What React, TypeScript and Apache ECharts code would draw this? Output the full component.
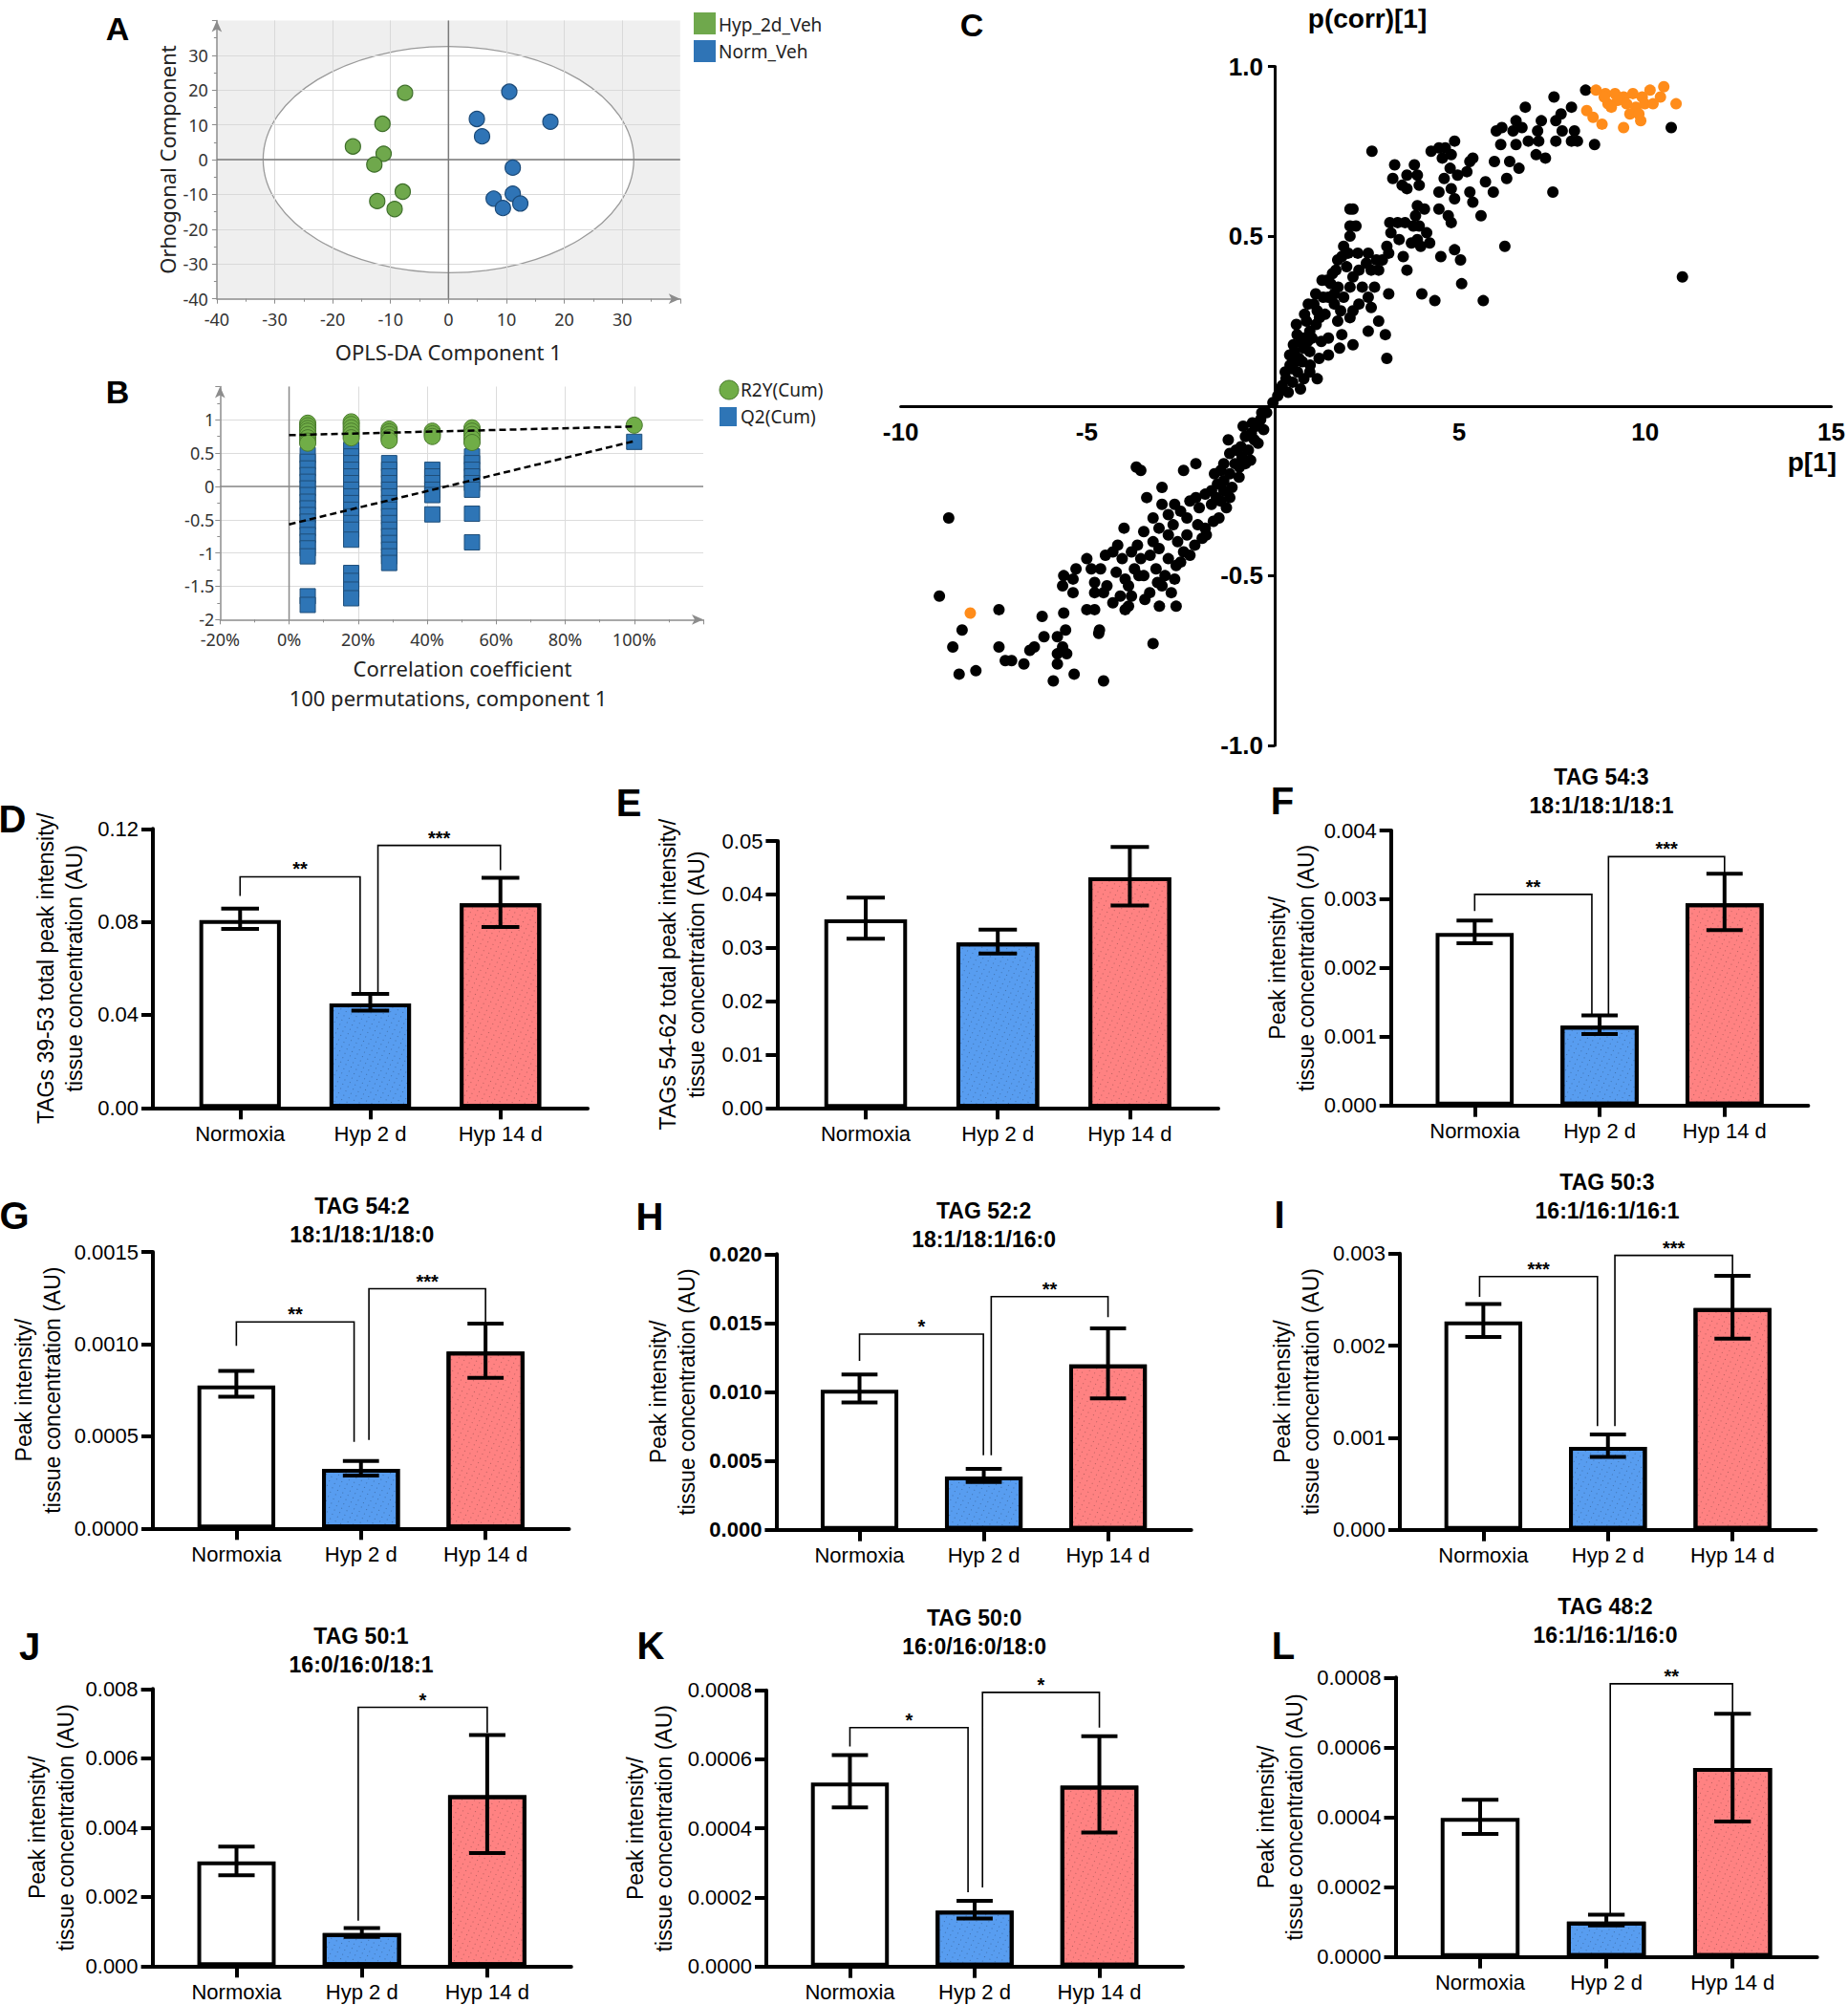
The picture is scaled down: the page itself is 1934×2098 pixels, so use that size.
import React, { useEffect, useRef } from 'react';
import * as echarts from 'echarts';

const PAGE_W = 1934;
const PAGE_H = 2098;
const ARIAL = '"Liberation Sans", Arial, Helvetica, sans-serif';
const UI = '"Noto Sans", "Open Sans", sans-serif';

/* ---------------- Panel A : OPLS-DA score plot ---------------- */
const aHypPoints = [[-7.5, 19.2], [-11.4, 10.3], [-16.5, 3.8], [-11.2, 1.7], [-12.8, -1.4], [-7.9, -9.2], [-12.3, -11.9], [-9.3, -14.2]];
const aNormPoints = [[10.5, 19.5], [4.9, 11.7], [17.6, 10.9], [5.8, 6.7], [11.1, -2.3], [11.1, -9.8], [7.8, -11.2], [12.4, -12.6], [9.4, -13.9]];
const aEllipse = [[0, 0, 32, 32.5]]; // centre x, centre y, radius x, radius y (Hotelling T2)
const aLegend = ['Hyp_2d_Veh', 'Norm_Veh'];

/* ---------------- Panel B : permutation test ---------------- */
const bPermX = [5.4, 18, 29, 41.5, 53, 100];
const bR2Y = [
  [0.95, 0.91, 0.87, 0.83, 0.78, 0.73, 0.68, 0.65],
  [0.97, 0.93, 0.88, 0.83, 0.78, 0.73],
  [0.86, 0.82, 0.78, 0.73, 0.69],
  [0.83, 0.79, 0.75],
  [0.88, 0.83, 0.78, 0.72, 0.66],
  [0.92],
];
const bQ2 = [
  [0.47, 0.37, 0.27, 0.17, 0.07, -0.03, -0.13, -0.23, -0.33, -0.43, -0.53, -0.63, -0.73, -0.83, -0.93, -1.05, -1.65, -1.78],
  [0.55, 0.45, 0.35, 0.25, 0.15, 0.05, -0.05, -0.15, -0.25, -0.35, -0.45, -0.55, -0.65, -0.8, -1.3, -1.42, -1.55, -1.68],
  [0.35, 0.25, 0.15, 0.05, -0.05, -0.15, -0.25, -0.35, -0.45, -0.55, -0.65, -0.75, -0.85, -0.95, -1.05, -1.15],
  [0.25, 0.15, 0.05, -0.05, -0.13, -0.42],
  [0.45, 0.35, 0.25, 0.15, 0.05, -0.05, -0.41, -0.84],
  [0.67],
];
const bR2YFit = [[0, 0.77], [100, 0.9]];
const bQ2Fit = [[0, -0.57], [100, 0.68]];
const bLegend = ['R2Y(Cum)', 'Q2(Cum)'];

/* ---------------- Panel C : S-plot ---------------- */
const cBlack = [
  [8.4, 0.93], [10.7, 0.82], [11.0, 0.38], [8.64, 0.77], [7.55, 0.91], [6.78, 0.88], [7.74, 0.86], [8.02, 0.88], [7.21, 0.84], [7.6, 0.84],
  [7.77, 0.81], [8.1, 0.81], [8.02, 0.78], [7.6, 0.78], [8.18, 0.78], [7.11, 0.81], [6.53, 0.84], [6.69, 0.82], [6.0, 0.81], [6.15, 0.82],
  [6.45, 0.81], [6.12, 0.77], [6.53, 0.77], [6.86, 0.78], [7.14, 0.78], [7.07, 0.74], [7.32, 0.73], [6.61, 0.7], [6.36, 0.72], [5.95, 0.72],
  [6.28, 0.67], [5.71, 0.66], [5.92, 0.63], [7.52, 0.63], [5.37, 0.73], [5.29, 0.72], [4.96, 0.68], [5.21, 0.69], [4.88, 0.78], [4.63, 0.76],
  [4.46, 0.76], [4.25, 0.75], [4.79, 0.74], [4.55, 0.73], [4.76, 0.7], [4.6, 0.67], [4.79, 0.64], [4.88, 0.61], [4.46, 0.63], [4.46, 0.58],
  [4.71, 0.56], [4.79, 0.54], [5.29, 0.63], [5.37, 0.6], [5.59, 0.56], [6.23, 0.47], [4.88, 0.46], [5.04, 0.43], [4.51, 0.44], [5.07, 0.36],
  [5.65, 0.31], [4.0, 0.33], [4.35, 0.31], [3.8, 0.71], [3.88, 0.68], [3.6, 0.68], [3.27, 0.71], [3.22, 0.67], [3.47, 0.65], [3.6, 0.64],
  [3.93, 0.65], [3.88, 0.59], [4.07, 0.58], [3.83, 0.56], [3.77, 0.53], [3.93, 0.53], [3.88, 0.49], [4.13, 0.51], [4.21, 0.48], [3.97, 0.47],
  [3.72, 0.48], [3.55, 0.54], [3.35, 0.54], [3.14, 0.54], [3.17, 0.51], [3.39, 0.49], [3.5, 0.44], [3.6, 0.4], [3.06, 0.47], [3.11, 0.45],
  [2.94, 0.43], [3.11, 0.33], [3.02, 0.21], [3.06, 0.14], [2.66, 0.75], [2.07, 0.58], [2.15, 0.58], [2.07, 0.53], [2.23, 0.53], [2.07, 0.5],
  [2.02, 0.45], [2.28, 0.45], [2.56, 0.45], [2.78, 0.43], [2.51, 0.42], [1.74, 0.43], [1.69, 0.4], [1.98, 0.41], [2.31, 0.4], [2.64, 0.4],
  [2.84, 0.4], [2.15, 0.38], [1.32, 0.37], [1.45, 0.37], [2.4, 0.35], [2.07, 0.35], [2.73, 0.35], [2.56, 0.32], [1.65, 0.33], [1.49, 0.32],
  [1.9, 0.32], [2.31, 0.3], [2.64, 0.29], [2.15, 0.28], [1.82, 0.28], [1.65, 0.3], [1.19, 0.28], [1.4, 0.27], [1.74, 0.25], [2.07, 0.26],
  [2.84, 0.25], [2.56, 0.22], [1.85, 0.21], [2.15, 0.18], [1.79, 0.17], [1.49, 0.2], [1.16, 0.24], [0.99, 0.22], [0.63, 0.24], [0.83, 0.2],
  [0.93, 0.19], [0.83, 0.17], [0.58, 0.16], [0.99, 0.16], [1.24, 0.14], [1.49, 0.15], [0.79, 0.13], [0.46, 0.12], [0.33, 0.1], [0.66, 0.1],
  [0.99, 0.1], [1.19, 0.08], [0.83, 0.08], [0.53, 0.07], [0.25, 0.06], [0.41, 0.04], [0.13, 0.03], [0.74, 0.05], [0, 0.01], [0.2, 0.05],
  [0.35, 0.08], [0.5, 0.11], [0.6, 0.13], [0.7, 0.14], [0.55, 0.18], [0.75, 0.19], [0.9, 0.25], [1.05, 0.2], [1.1, 0.3], [1.25, 0.26],
  [0.45, 0.15], [0.65, 0.21], [0.85, 0.27], [1.0, 0.12], [1.3, 0.19], [0.95, 0.3], [1.15, 0.33], [1.35, 0.32], [1.55, 0.36], [1.6, 0.39],
  [1.85, 0.44], [1.9, 0.47], [1.75, 0.35],
  [-0.17, -0.02], [-0.33, -0.04], [-0.46, -0.06], [-0.25, -0.07], [-0.58, -0.08], [-0.74, -0.09], [-0.5, -0.1], [-0.86, -0.12], [-0.66, -0.13], [-0.99, -0.13],
  [-1.16, -0.14], [-0.83, -0.15], [-1.32, -0.17], [-1.02, -0.17], [-0.74, -0.17], [-1.4, -0.19], [-1.16, -0.2], [-1.57, -0.2], [-1.32, -0.22], [-0.91, -0.21],
  [-1.49, -0.23], [-1.65, -0.25], [-1.32, -0.25], [-1.82, -0.26], [-2.07, -0.27], [-1.52, -0.27], [-1.16, -0.27], [-2.4, -0.19], [-2.07, -0.17], [-3.67, -0.18],
  [-3.55, -0.19], [-3.39, -0.27], [-2.98, -0.24], [-2.23, -0.28], [-2.64, -0.29], [-2.98, -0.29], [-1.65, -0.29], [-1.98, -0.3], [-2.48, -0.31], [-2.81, -0.32],
  [-3.22, -0.33], [-2.31, -0.33], [-2.02, -0.35], [-2.68, -0.35], [-3.06, -0.36], [-4.0, -0.36], [-3.47, -0.37], [-2.81, -0.38], [-2.31, -0.38], [-1.82, -0.36],
  [-1.79, -0.38], [-3.22, -0.4], [-2.56, -0.4], [-3.64, -0.41], [-4.17, -0.41], [-3.06, -0.42], [-3.8, -0.43], [-4.3, -0.43], [-3.3, -0.44], [-2.23, -0.44],
  [-4.5, -0.44], [-2.81, -0.45], [-4.05, -0.45], [-3.55, -0.45], [-5.0, -0.45], [-2.48, -0.46], [-3.72, -0.48], [-3.14, -0.48], [-4.63, -0.48], [-4.21, -0.49],
  [-4.88, -0.48], [-2.64, -0.51], [-3.47, -0.5], [-3.97, -0.51], [-5.62, -0.5], [-5.29, -0.48], [-5.37, -0.51], [-5.65, -0.53], [-4.79, -0.52], [-4.46, -0.53],
  [-3.88, -0.53], [-2.98, -0.53], [-2.73, -0.55], [-3.31, -0.55], [-4.55, -0.55], [-5.37, -0.55], [-4.79, -0.55], [-3.8, -0.56], [-3.44, -0.57], [-3.88, -0.59],
  [-3.97, -0.6], [-3.05, -0.59], [-2.6, -0.59], [-4.3, -0.58], [-5.0, -0.6], [-4.79, -0.6], [-5.62, -0.61], [-6.2, -0.62], [-7.36, -0.6], [-8.96, -0.56],
  [-8.71, -0.33], [-8.35, -0.66], [-8.6, -0.71], [-7.36, -0.71], [-7.19, -0.75], [-7.02, -0.75], [-6.69, -0.76], [-6.53, -0.72], [-6.41, -0.71], [-6.15, -0.68],
  [-5.79, -0.68], [-5.57, -0.66], [-5.65, -0.71], [-5.79, -0.73], [-5.54, -0.73], [-5.79, -0.76], [-4.66, -0.66], [-4.68, -0.67], [-3.22, -0.7], [-8.43, -0.79],
  [-7.98, -0.78], [-5.9, -0.81], [-5.34, -0.79], [-4.55, -0.81],
  [-0.4, -0.11], [-0.6, -0.16], [-0.9, -0.18], [-1.1, -0.24], [-1.25, -0.3], [-1.45, -0.33], [-1.6, -0.34], [-1.4, -0.28], [-1.9, -0.39], [-2.1, -0.41],
  [-2.4, -0.43], [-2.6, -0.47], [-2.9, -0.5], [-3.1, -0.52], [-3.6, -0.5], [-4.1, -0.56], [-0.3, -0.02], [-0.55, -0.05], [-0.8, -0.06], [-1.2, -0.1],
];
const cOrange = [
  [8.68, 0.93], [8.93, 0.92], [9.19, 0.92], [9.42, 0.91], [9.67, 0.92], [9.92, 0.91], [10.13, 0.93], [10.5, 0.94], [8.43, 0.87], [8.6, 0.85],
  [8.84, 0.83], [9.0, 0.89], [9.26, 0.9], [9.5, 0.89], [9.75, 0.88], [9.99, 0.89], [10.21, 0.89], [10.41, 0.91], [10.83, 0.89], [9.42, 0.82],
  [9.88, 0.84], [9.59, 0.86], [9.09, 0.88], [9.83, 0.86], [8.9, 0.91], [-8.13, -0.61],
];

/* ---------------- Panels D–L : bar charts ---------------- */
const groups = ['Normoxia', 'Hyp 2 d', 'Hyp 14 d'];
const groupFills = ['#ffffff', '#589df0', '#ff8282'];

const dMean = [0.0808, 0.0449, 0.088];
const dUpper = [0.0857, 0.049, 0.099];
const dLower = [0.077, 0.0418, 0.0778];
const dBrackets = [[0, 0.0912, 0.922, 0.049, 0.0994], [1.059, 0.049, 2, 0.1022, 0.1129]];
const dStars = ['**', '***'];

const eMean = [0.0353, 0.031, 0.0432];
const eUpper = [0.0394, 0.0334, 0.0489];
const eLower = [0.0317, 0.0289, 0.0379];
const eBrackets: number[][] = [];
const eStars: string[] = [];

const fMean = [0.00251, 0.00116, 0.00294];
const fUpper = [0.00269, 0.00131, 0.00337];
const fLower = [0.00236, 0.00104, 0.00255];
const fBrackets = [[0, 0.00283, 0.938, 0.00131, 0.00307], [1.071, 0.00131, 2, 0.00337, 0.00362]];
const fStars = ['**', '***'];

const gMean = [0.000776, 0.000323, 0.000959];
const gUpper = [0.000855, 0.000366, 0.001111];
const gLower = [0.000714, 0.000287, 0.000817];
const gBrackets = [[0, 0.00099, 0.945, 0.00047, 0.00112], [1.064, 0.00048, 2, 0.00111, 0.0013]];
const gStars = ['**', '***'];

const hMean = [0.01015, 0.00386, 0.012];
const hUpper = [0.01126, 0.00442, 0.01461];
const hLower = [0.00923, 0.00347, 0.00953];
const hBrackets = [[0, 0.01225, 0.997, 0.0054, 0.0142], [1.06, 0.0054, 2, 0.01542, 0.01692]];
const hStars = ['*', '**'];

const iMean = [0.002263, 0.0009, 0.002408];
const iUpper = [0.002453, 0.001035, 0.002758];
const iLower = [0.002093, 0.000792, 0.002076];
const iBrackets = [[-0.03, 0.00253, 0.916, 0.001125, 0.00275], [1.056, 0.001125, 2, 0.00276, 0.00298]];
const iStars = ['***', '***'];

const jMean = [0.003025, 0.000956, 0.004929];
const jUpper = [0.003448, 0.0011, 0.006667];
const jLower = [0.002621, 0.000846, 0.003264];
const jBrackets = [[0.971, 0.00131, 2, 0.00673, 0.00747]];
const jStars = ['*'];

const kMean = [0.000533, 0.000162, 0.000524];
const kUpper = [0.000612, 0.00019, 0.000667];
const kLower = [0.000461, 0.000139, 0.000388];
const kBrackets = [[0, 0.000637, 0.947, 0.000215, 0.000692], [1.063, 0.000229, 2, 0.000692, 0.000794]];
const kStars = ['*', '*'];

const lMean = [0.000398, 0.000101, 0.000541];
const lUpper = [0.00045, 0.000121, 0.000696];
const lLower = [0.000352, 0.00009, 0.000388];
const lBrackets = [[1.031, 0.00012, 2, 0.000696, 0.000782]];
const lStars = ['**'];

const Y_PEAK = 'Peak intensity/\ntissue concentration (AU)';

// layout of the bar panels (pixel boxes)
const barPanels = [
  { mean: dMean, upper: dUpper, lower: dLower, brackets: dBrackets, stars: dStars, max: 0.12, step: 0.04, dec: 2, yName: 'TAGs 39-53 total peak intensity/\ntissue concentration (AU)', title: '', box: { ax: 160, top: 867.3, zero: 1159.3, right: 615, gap: 67, tx: 0, ty: 0 } },
  { mean: eMean, upper: eUpper, lower: eLower, brackets: eBrackets, stars: eStars, max: 0.05, step: 0.01, dec: 2, yName: 'TAGs 54-62 total peak intensity/\ntissue concentration (AU)', title: '', box: { ax: 813.4, top: 880, zero: 1159.3, right: 1275, gap: 69, tx: 0, ty: 0 } },
  { mean: fMean, upper: fUpper, lower: fLower, brackets: fBrackets, stars: fStars, max: 0.004, step: 0.001, dec: 3, yName: Y_PEAK, title: 'TAG 54:3\n18:1/18:1/18:1', box: { ax: 1455.7, top: 869, zero: 1156.7, right: 1892.4, gap: 74, tx: 1676, ty: 828 } },
  { mean: gMean, upper: gUpper, lower: gLower, brackets: gBrackets, stars: gStars, max: 0.0015, step: 0.0005, dec: 4, yName: Y_PEAK, title: 'TAG 54:2\n18:1/18:1/18:0', box: { ax: 160, top: 1310, zero: 1599.3, right: 595.5, gap: 90, tx: 378.8, ty: 1276.7 } },
  { mean: hMean, upper: hUpper, lower: hLower, brackets: hBrackets, stars: hStars, max: 0.02, step: 0.005, dec: 3, yName: Y_PEAK, title: 'TAG 52:2\n18:1/18:1/16:0', bold: true, box: { ax: 812.4, top: 1312.3, zero: 1600.7, right: 1246.7, gap: 78, tx: 1029.6, ty: 1281.7 } },
  { mean: iMean, upper: iUpper, lower: iLower, brackets: iBrackets, stars: iStars, max: 0.003, step: 0.001, dec: 3, yName: Y_PEAK, title: 'TAG 50:3\n16:1/16:1/16:1', box: { ax: 1465, top: 1311.7, zero: 1600.7, right: 1900.5, gap: 78, tx: 1682, ty: 1252.2 } },
  { mean: jMean, upper: jUpper, lower: jLower, brackets: jBrackets, stars: jStars, max: 0.008, step: 0.002, dec: 3, yName: Y_PEAK, title: 'TAG 50:1\n16:0/16:0/18:1', box: { ax: 159.6, top: 1767.3, zero: 2057.3, right: 597.8, gap: 76, tx: 378, ty: 1727 } },
  { mean: kMean, upper: kUpper, lower: kLower, brackets: kBrackets, stars: kStars, max: 0.0008, step: 0.0002, dec: 4, yName: Y_PEAK, title: 'TAG 50:0\n16:0/16:0/18:0', box: { ax: 802, top: 1768.7, zero: 2057.7, right: 1238, gap: 92, tx: 1019.6, ty: 1707.5 } },
  { mean: lMean, upper: lUpper, lower: lLower, brackets: lBrackets, stars: lStars, max: 0.0008, step: 0.0002, dec: 4, yName: Y_PEAK, title: 'TAG 48:2\n16:1/16:1/16:0', box: { ax: 1460.5, top: 1755.3, zero: 2047.7, right: 1901.7, gap: 91, tx: 1680, ty: 1696 } },
];

const panelLetters: [string, number, number, number][] = [
  ['A', 123, 30, 34], ['B', 123, 410, 34], ['C', 1017, 26, 34],
  ['D', 13, 857, 40], ['E', 658, 840, 40], ['F', 1342, 838, 40],
  ['G', 15, 1272, 40], ['H', 680, 1273, 40], ['I', 1339, 1271, 40],
  ['J', 31, 1723, 40], ['K', 681, 1722, 40], ['L', 1343, 1722, 40],
];

function txt(text: string, x: number, y: number, font: string, align = 'center', vAlign = 'middle', extra: any = {}) {
  return {
    type: 'text', x, y, silent: true, z: 50,
    style: { text, font, fill: '#000', align, verticalAlign: vAlign, textAlign: align, textVerticalAlign: vAlign, ...extra },
  };
}

function buildOption() {
  const grid: any[] = [];
  const xAxis: any[] = [];
  const yAxis: any[] = [];
  const series: any[] = [];
  const graphic: any[] = [];

  const grayAxis = { color: '#8c8c8c', width: 1.5 };
  const uiLabel = { fontFamily: UI, fontSize: 18, color: '#333' };

  /* ---------- A ---------- */
  grid.push({ left: 226.9, top: 21.4, width: 484.9, height: 291.3, show: true, backgroundColor: '#efefef', borderWidth: 0 });
  xAxis.push({
    gridIndex: 0, type: 'value', min: -40, max: 40, interval: 10, z: 3,
    axisLine: { show: true, onZero: false, symbol: ['none', 'arrow'], symbolSize: [8, 12], lineStyle: grayAxis },
    axisTick: { show: true, length: 5, lineStyle: { color: '#8c8c8c' } },
    minorTick: { show: true, splitNumber: 2, length: 3, lineStyle: { color: '#8c8c8c' } },
    axisLabel: { ...uiLabel, margin: 12, formatter: (v: number) => (v >= 40 ? '' : String(v)) },
    splitLine: { show: true, showMinLine: false, showMaxLine: false, lineStyle: { color: '#d9d9d9', width: 1 } },
    name: 'OPLS-DA Component 1', nameLocation: 'middle', nameGap: 44,
    nameTextStyle: { fontFamily: UI, fontSize: 22, color: '#222' },
  });
  yAxis.push({
    gridIndex: 0, type: 'value', min: -40, max: 40, interval: 10, z: 3,
    axisLine: { show: true, onZero: false, symbol: ['none', 'arrow'], symbolSize: [8, 12], lineStyle: grayAxis },
    axisTick: { show: true, length: 5, lineStyle: { color: '#8c8c8c' } },
    minorTick: { show: true, splitNumber: 2, length: 3, lineStyle: { color: '#8c8c8c' } },
    axisLabel: { ...uiLabel, margin: 9, formatter: (v: number) => (v >= 40 ? '' : String(v)) },
    splitLine: { show: true, showMinLine: false, showMaxLine: false, lineStyle: { color: '#d9d9d9', width: 1 } },
    name: 'Orhogonal Component', nameLocation: 'middle', nameRotate: 90, nameGap: 41,
    nameTextStyle: { fontFamily: UI, fontSize: 22, color: '#222' },
  });
  series.push({
    type: 'custom', xAxisIndex: 0, yAxisIndex: 0, z: 2, silent: true, data: aEllipse,
    renderItem: (_p: any, api: any) => {
      const c = api.coord([api.value(0), api.value(1)]);
      const s = api.size([api.value(2), api.value(3)]);
      return { type: 'ellipse', shape: { cx: c[0], cy: c[1], rx: s[0], ry: s[1] }, style: { fill: '#ffffff', stroke: '#9a9a9a', lineWidth: 1.3 } };
    },
  });
  series.push({ type: 'line', xAxisIndex: 0, yAxisIndex: 0, z: 4, silent: true, symbol: 'none', data: [[0, -40], [0, 40]], lineStyle: { color: '#7a7a7a', width: 1.5 } });
  series.push({ type: 'line', xAxisIndex: 0, yAxisIndex: 0, z: 4, silent: true, symbol: 'none', data: [[-40, 0], [40, 0]], lineStyle: { color: '#7a7a7a', width: 1.5 } });
  series.push({ type: 'scatter', name: aLegend[0], xAxisIndex: 0, yAxisIndex: 0, z: 5, symbolSize: 16, data: aHypPoints, itemStyle: { color: '#6fa84c', borderColor: '#3e6e2a', borderWidth: 1.2, opacity: 1 } });
  series.push({ type: 'scatter', name: aLegend[1], xAxisIndex: 0, yAxisIndex: 0, z: 5, symbolSize: 16, data: aNormPoints, itemStyle: { color: '#2f74b6', borderColor: '#1c4a78', borderWidth: 1.2, opacity: 1 } });

  graphic.push({ type: 'rect', shape: { x: 726, y: 13, width: 23, height: 23 }, style: { fill: '#6fa84c' }, silent: true });
  graphic.push(txt(aLegend[0], 752, 26, `19px ${UI}`, 'left', 'middle', { fill: '#222' }));
  graphic.push({ type: 'rect', shape: { x: 726, y: 42, width: 23, height: 23 }, style: { fill: '#2f74b6' }, silent: true });
  graphic.push(txt(aLegend[1], 752, 54, `19px ${UI}`, 'left', 'middle', { fill: '#222' }));

  /* ---------- B ---------- */
  grid.push({ left: 230.3, top: 404.5, width: 505.7, height: 243.8, show: false });
  xAxis.push({
    gridIndex: 1, type: 'value', min: -20, max: 120, interval: 20, z: 3,
    axisLine: { show: true, onZero: false, symbol: ['none', 'arrow'], symbolSize: [8, 12], lineStyle: grayAxis },
    axisTick: { show: true, length: 5, lineStyle: { color: '#8c8c8c' } },
    minorTick: { show: true, splitNumber: 2, length: 3, lineStyle: { color: '#8c8c8c' } },
    axisLabel: { ...uiLabel, margin: 12, formatter: (v: number) => (v >= 120 ? '' : v + '%') },
    splitLine: { show: true, showMinLine: false, showMaxLine: false, lineStyle: { color: '#dcdcdc', width: 1 } },
  });
  yAxis.push({
    gridIndex: 1, type: 'value', min: -2, max: 1.5, interval: 0.5, z: 3,
    axisLine: { show: true, onZero: false, symbol: ['none', 'arrow'], symbolSize: [8, 12], lineStyle: grayAxis },
    axisTick: { show: true, length: 5, lineStyle: { color: '#8c8c8c' } },
    minorTick: { show: true, splitNumber: 2, length: 3, lineStyle: { color: '#8c8c8c' } },
    axisLabel: { ...uiLabel, margin: 6, formatter: (v: number) => (v > 1.01 ? '' : String(v)) },
    splitLine: { show: true, showMinLine: false, showMaxLine: false, lineStyle: { color: '#dcdcdc', width: 1 } },
  });
  series.push({ type: 'line', xAxisIndex: 1, yAxisIndex: 1, z: 3, silent: true, symbol: 'none', data: [[0, -2], [0, 1.5]], lineStyle: { color: '#8a8a8a', width: 1.5 } });
  series.push({ type: 'line', xAxisIndex: 1, yAxisIndex: 1, z: 3, silent: true, symbol: 'none', data: [[-20, 0], [120, 0]], lineStyle: { color: '#8a8a8a', width: 1.5 } });
  const q2Data: number[][] = [];
  bQ2.forEach((col, i) => col.forEach((v) => q2Data.push([bPermX[i], v])));
  const r2Data: number[][] = [];
  bR2Y.forEach((col, i) => col.forEach((v) => r2Data.push([bPermX[i], v])));
  series.push({ type: 'scatter', name: bLegend[1], xAxisIndex: 1, yAxisIndex: 1, z: 4, symbol: 'rect', symbolSize: [16, 16], data: q2Data, itemStyle: { color: '#2e75b6', borderColor: '#1f4e79', borderWidth: 1, opacity: 1 } });
  series.push({ type: 'scatter', name: bLegend[0], xAxisIndex: 1, yAxisIndex: 1, z: 5, symbolSize: 17, data: r2Data, itemStyle: { color: '#70ad47', borderColor: '#4a7a2e', borderWidth: 1, opacity: 1 } });
  series.push({ type: 'line', xAxisIndex: 1, yAxisIndex: 1, z: 6, silent: true, symbol: 'none', data: bR2YFit, lineStyle: { color: '#000', width: 2.5, type: [7, 4] } });
  series.push({ type: 'line', xAxisIndex: 1, yAxisIndex: 1, z: 6, silent: true, symbol: 'none', data: bQ2Fit, lineStyle: { color: '#000', width: 2.5, type: [7, 4] } });

  graphic.push({ type: 'circle', shape: { cx: 763, cy: 408, r: 10 }, style: { fill: '#70ad47', stroke: '#4a7a2e', lineWidth: 1 }, silent: true });
  graphic.push(txt(bLegend[0], 775, 408, `19px ${UI}`, 'left', 'middle', { fill: '#222' }));
  graphic.push({ type: 'rect', shape: { x: 753, y: 426, width: 18, height: 20 }, style: { fill: '#2e75b6' }, silent: true });
  graphic.push(txt(bLegend[1], 775, 436, `19px ${UI}`, 'left', 'middle', { fill: '#222' }));
  graphic.push(txt('Correlation coefficient', 484, 699, `22px ${UI}`, 'center', 'middle', { fill: '#222' }));
  graphic.push(txt('100 permutations, component 1', 469, 730, `22px ${UI}`, 'center', 'middle', { fill: '#222' }));

  /* ---------- C ---------- */
  const cLeft = 942.6, cTop = 69.5, cW = 978.4, cH = 710.5;
  const cXMin = -10, cXMax = 15, cYMin = -1, cYMax = 1;
  // axes cross at the origin: shift them from the grid edges onto zero
  const cYOffset = -((0 - cXMin) / (cXMax - cXMin)) * cW;
  const cXOffset = -((0 - cYMin) / (cYMax - cYMin)) * cH;
  grid.push({ left: cLeft, top: cTop, width: cW, height: cH, show: false });
  xAxis.push({
    gridIndex: 2, type: 'value', min: cXMin, max: cXMax, interval: 5, z: 3, position: 'bottom', offset: cXOffset,
    axisLine: { show: true, onZero: false, lineStyle: { color: '#000', width: 3 } },
    axisTick: { show: false },
    axisLabel: { fontFamily: ARIAL, fontWeight: 'bold', fontSize: 26, color: '#000', margin: 14, formatter: (v: number) => (v === 0 ? '' : String(v)) },
    splitLine: { show: false },
  });
  yAxis.push({
    gridIndex: 2, type: 'value', min: cYMin, max: cYMax, interval: 0.5, z: 3, position: 'left', offset: cYOffset,
    axisLine: { show: true, onZero: false, lineStyle: { color: '#000', width: 3 } },
    axisTick: { show: true, length: 7, lineStyle: { color: '#000', width: 3 } },
    axisLabel: { fontFamily: ARIAL, fontWeight: 'bold', fontSize: 26, color: '#000', margin: 12, formatter: (v: number) => (Math.abs(v) < 1e-9 ? '' : v.toFixed(1)) },
    splitLine: { show: false },
  });
  series.push({ type: 'scatter', xAxisIndex: 2, yAxisIndex: 2, z: 4, symbolSize: 12, data: cBlack, itemStyle: { color: '#000', opacity: 1 } });
  series.push({ type: 'scatter', xAxisIndex: 2, yAxisIndex: 2, z: 5, symbolSize: 12, data: cOrange, itemStyle: { color: '#ff8c1a', opacity: 1 } });
  graphic.push(txt('p(corr)[1]', 1431, 19, `bold 28px ${ARIAL}`));
  graphic.push(txt('p[1]', 1922, 483, `bold 28px ${ARIAL}`, 'right', 'middle'));

  /* ---------- D–L ---------- */
  const texture = { symbol: 'rect', symbolSize: 1, dashArrayX: [1, 5], dashArrayY: [1, 4], rotation: 0.45, color: 'rgba(0,0,0,0.28)' };
  barPanels.forEach((p: any, k: number) => {
    const gi = 3 + k;
    const b = p.box;
    const width = b.right - b.ax;
    const band = width / 3.34;
    grid.push({ left: b.ax, top: b.top, width, height: b.zero - b.top, show: false });
    xAxis.push({
      gridIndex: gi, type: 'value', min: -0.67, max: 2.67, z: 3,
      axisLine: { show: true, onZero: false, lineStyle: { color: '#000', width: 4 } },
      axisTick: { show: true, customValues: [0, 1, 2], length: 12, lineStyle: { color: '#000', width: 4 } },
      axisLabel: {
        customValues: [0, 1, 2], fontFamily: ARIAL, fontSize: 22, color: '#000', margin: 16,
        formatter: (v: number) => (Number.isInteger(v) && groups[v] ? groups[v] : ''),
      },
      splitLine: { show: false },
    });
    yAxis.push({
      gridIndex: gi, type: 'value', min: 0, max: p.max, interval: p.step, z: 3,
      axisLine: { show: true, onZero: false, lineStyle: { color: '#000', width: 4 } },
      axisTick: { show: true, length: 12, lineStyle: { color: '#000', width: 4 } },
      axisLabel: { fontFamily: ARIAL, fontSize: 22, fontWeight: p.bold ? 'bold' : 'normal', color: '#000', margin: 15, formatter: (v: number) => v.toFixed(p.dec) },
      splitLine: { show: false },
      name: p.yName, nameLocation: 'middle', nameRotate: 90, nameGap: b.gap,
      nameTextStyle: { fontFamily: ARIAL, fontSize: 23, color: '#000', lineHeight: 30 },
    });
    series.push({
      type: 'bar', xAxisIndex: gi, yAxisIndex: gi, z: 2, silent: true,
      barWidth: band * 0.655 - 4,
      data: p.mean.map((v: number, i: number) => ({
        value: [i, v],
        itemStyle: { color: groupFills[i], borderColor: '#000', borderWidth: 4, decal: i === 0 ? null : texture },
      })),
    });
    series.push({
      type: 'custom', xAxisIndex: gi, yAxisIndex: gi, z: 4, silent: true,
      data: p.mean.map((_v: number, i: number) => [i, p.lower[i], p.upper[i]]),
      renderItem: (_params: any, api: any) => {
        const x = api.value(0);
        const lo = api.coord([x, api.value(1)]);
        const hi = api.coord([x, api.value(2)]);
        const half = api.size([1, 0])[0] * 0.145;
        const st = { stroke: '#000', lineWidth: 4 };
        return {
          type: 'group', children: [
            { type: 'line', shape: { x1: hi[0], y1: hi[1], x2: lo[0], y2: lo[1] }, style: st },
            { type: 'line', shape: { x1: hi[0] - half, y1: hi[1], x2: hi[0] + half, y2: hi[1] }, style: st },
            { type: 'line', shape: { x1: lo[0] - half, y1: lo[1], x2: lo[0] + half, y2: lo[1] }, style: st },
          ],
        };
      },
    });
    if (p.brackets.length) {
      series.push({
        type: 'custom', xAxisIndex: gi, yAxisIndex: gi, z: 5, silent: true,
        data: p.brackets,
        renderItem: (params: any, api: any) => {
          const p1 = api.coord([api.value(0), api.value(1)]);
          const p2 = api.coord([api.value(0), api.value(4)]);
          const p3 = api.coord([api.value(2), api.value(4)]);
          const p4 = api.coord([api.value(2), api.value(3)]);
          return {
            type: 'group', children: [
              { type: 'polyline', shape: { points: [p1, p2, p3, p4] }, style: { stroke: '#000', fill: 'none', lineWidth: 1.6 } },
              {
                type: 'text', x: (p2[0] + p3[0]) / 2, y: p2[1] + 2,
                style: { text: p.stars[params.dataIndex], font: `bold 20px ${ARIAL}`, fill: '#000', align: 'center', verticalAlign: 'bottom', textAlign: 'center', textVerticalAlign: 'bottom' },
              },
            ],
          };
        },
      });
    }
    if (p.title) {
      graphic.push(txt(p.title, b.tx, b.ty, `bold 23px ${ARIAL}`, 'center', 'middle', { lineHeight: 30 }));
    }
  });

  panelLetters.forEach(([l, x, y, s]) => graphic.push(txt(l, x, y, `bold ${s}px ${ARIAL}`)));

  return { animation: false, backgroundColor: '#ffffff', grid, xAxis, yAxis, series, graphic };
}

export default function App() {
  const ref = useRef<HTMLDivElement>(null);
  useEffect(() => {
    if (!ref.current) return;
    const chart = echarts.init(ref.current, undefined, { renderer: 'svg', width: PAGE_W, height: PAGE_H });
    chart.setOption(buildOption() as any);
    return () => chart.dispose();
  }, []);
  return <div ref={ref} style={{ position: 'absolute', left: 0, top: 0, width: PAGE_W, height: PAGE_H, background: '#fff' }} />;
}
